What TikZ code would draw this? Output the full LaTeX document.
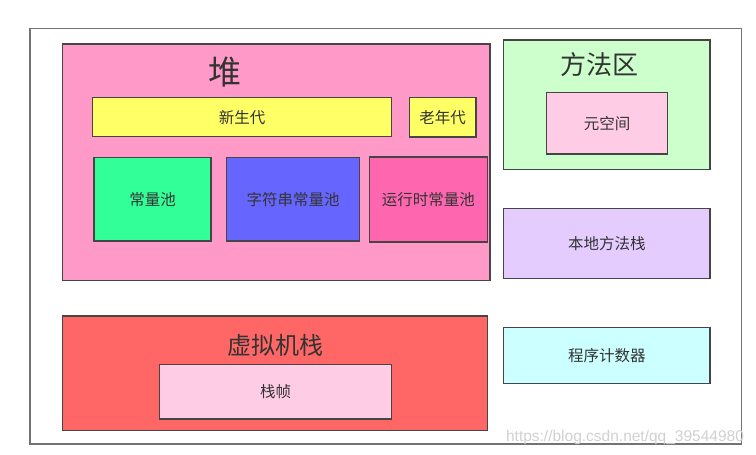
\documentclass[tikz,border=0pt]{standalone}
\usepackage{fontspec}
\newfontfamily\cjk{Noto Sans CJK SC}
\setmainfont{Liberation Sans}
\definecolor{heapc}{HTML}{FF99C8}
\definecolor{yelc}{HTML}{FFFF66}
\definecolor{grnc}{HTML}{33FF99}
\definecolor{bluc}{HTML}{6666FF}
\definecolor{rtc}{HTML}{FF66B0}
\definecolor{mac}{HTML}{CCFFCC}
\definecolor{lpink}{HTML}{FFCCE6}
\definecolor{purc}{HTML}{E5CCFF}
\definecolor{cyanc}{HTML}{CCFFFF}
\definecolor{vmc}{HTML}{FF6666}
\definecolor{edgec}{HTML}{454545}
\definecolor{txtc}{HTML}{333333}
\begin{document}
\begin{tikzpicture}[x=1pt,y=-1pt,
  box/.style={draw=edgec, line width=1.2pt, inner sep=0pt, text=txtc, font=\cjk\fontsize{15.5}{18}\selectfont},
  title/.style={inner sep=0pt, text=txtc}]
\useasboundingbox (0,0) rectangle (756,455);
\fill[white] (0,0) rectangle (756,455);
\node[draw=black!55, line width=1.2pt, minimum width=711.7pt, minimum height=415.5pt, inner sep=0pt] (frame) at (385.85,236.25) {};
% heap
\node[box, fill=heapc, minimum width=427.3pt, minimum height=236.7pt] (heap) at (276.3,162.3) {};
\node[title, font=\cjk\fontsize{33}{36}\selectfont] (heapt) at (225,72) {堆};
\node[box, fill=yelc, minimum width=299.4pt, minimum height=39pt] (young) at (242,117.2) {新生代};
\node[box, fill=yelc, minimum width=66.7pt, minimum height=39.3pt] (old) at (442.7,117.3) {老年代};
\node[box, fill=grnc, minimum width=117pt, minimum height=83.3pt] (cp) at (152.5,199.3) {常量池};
\node[box, fill=bluc, minimum width=132.6pt, minimum height=83.3pt] (scp) at (293,199.3) {字符串常量池};
\node[box, fill=rtc, minimum width=118pt, minimum height=85pt] (rcp) at (428.3,199.5) {运行时常量池};
% method area
\node[box, fill=mac, minimum width=206.3pt, minimum height=129.3pt] (ma) at (606.8,104.7) {};
\node[title, font=\cjk\fontsize{26}{30}\selectfont] (mat) at (599,65) {方法区};
\node[box, fill=lpink, minimum width=120.6pt, minimum height=61.7pt] (meta) at (607,123.2) {元空间};
\node[box, fill=purc, minimum width=206.3pt, minimum height=70pt] (native) at (606.8,243.3) {本地方法栈};
\node[box, fill=cyanc, minimum width=206.3pt, minimum height=55.6pt] (pc) at (606.8,355.5) {程序计数器};
% vm stack
\node[box, fill=vmc, minimum width=424.6pt, minimum height=114.3pt] (vms) at (275,373.2) {};
\node[title, font=\cjk\fontsize{24}{28}\selectfont] (vmst) at (275,345) {虚拟机栈};
\node[box, fill=lpink, minimum width=232.4pt, minimum height=54.3pt] (frm) at (275.5,391.8) {栈帧};
% watermark
\node[inner sep=0pt, text=black!18, font=\fontsize{15.5}{18}\selectfont] (wm) at (625,437) {https://blog.csdn.net/qq\_39544980};
\end{tikzpicture}
\end{document}
